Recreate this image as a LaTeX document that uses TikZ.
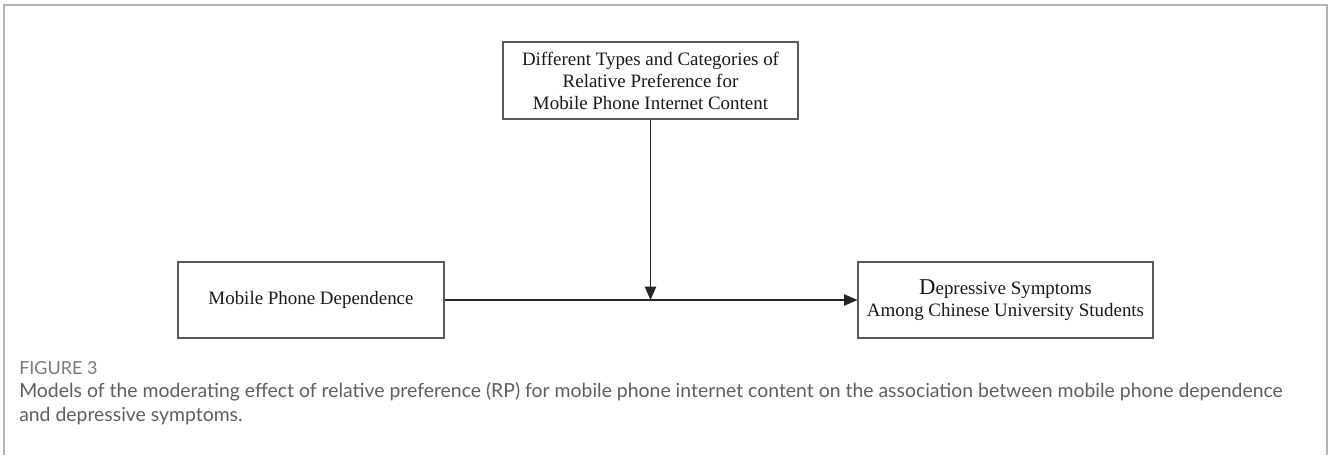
\documentclass[tikz,border=0pt]{standalone}
\usepackage{fontspec}
\setmainfont{Liberation Serif}
\newfontfamily\capfont{Lato}
\usetikzlibrary{arrows.meta,calc}
\definecolor{framegray}{HTML}{B4B4B4}
\definecolor{boxgray}{HTML}{5A5A5A}
\definecolor{capgray}{HTML}{5F5F5F}
\definecolor{labgray}{HTML}{7A7A7A}
\tikzset{
  varbox/.style={draw=boxgray, line width=0.8pt, align=center, inner sep=0pt,
    font=\fontsize{14.2pt}{16.5pt}\selectfont, text=black!90},
  link/.style={draw=black!85, line width=0.8pt,
    -{Triangle[length=10pt,width=8.5pt]}},
  captext/.style={anchor=base west, inner sep=0pt, text=capgray,
    font=\capfont\fontsize{14.55pt}{18pt}\selectfont},
}
\begin{document}
\begin{tikzpicture}[x=0.75pt, y=-0.75pt]
\useasboundingbox (0,0) rectangle (1328,455);
% outer frame of the figure panel
\draw[framegray, line width=1.6pt] (4,455) -- (4,5) -- (1327,5) -- (1327,455);

% moderator
\node[varbox, minimum width=221.25pt, minimum height=57.75pt] (mod) at (650.5,80.5)
  {Different Types and Categories of\\Relative Preference for\\Mobile Phone Internet Content};
% predictor and outcome
\node[varbox, minimum width=199.5pt, minimum height=57pt] (mpd) at (311,300)
  {Mobile Phone Dependence};
\node[varbox, minimum width=221.25pt, minimum height=57pt] (dep) at (1005.5,300)
  {{\fontsize{17pt}{16.5pt}\selectfont D}epressive Symptoms\\Among Chinese University Students};

\coordinate (meet) at (mod.south |- mpd.east);
\draw[link] (mpd.east) -- (dep.west);
\draw[link] (mod.south) -- (meet);

% caption
\node[anchor=base west, inner sep=0pt, text=labgray,
  font=\capfont\fontsize{13.5pt}{15pt}\selectfont] (figlab) at (19,374) {FIGURE 3};
\node[captext] (cap1) at (19,397)
  {Models of the moderating effect of relative preference (RP) for mobile phone internet content on the association between mobile phone dependence};
\node[captext] (cap2) at (19,421) {and depressive symptoms.};
\end{tikzpicture}
\end{document}
